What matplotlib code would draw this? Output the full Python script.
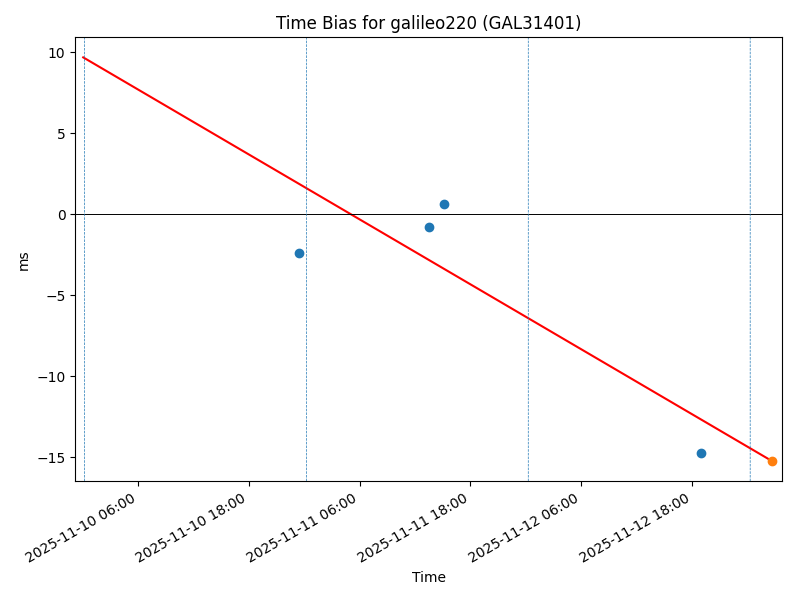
import numpy as np
import pandas as pd
import matplotlib
matplotlib.use("Agg")
import matplotlib.pyplot as plt
import matplotlib.dates as mdates

# measurements (time, bias in ms)
obs_times = pd.to_datetime(["2025-11-10 23:28", "2025-11-11 13:31",
                            "2025-11-11 15:07", "2025-11-12 18:56"])
obs_bias = [-2.40, -0.76, 0.60, -14.71]

# latest / predicted point
last_time = pd.to_datetime(["2025-11-13 02:36"])
last_bias = [-15.22]

# fitted trend line
fit_times = pd.to_datetime(["2025-11-10 00:07", "2025-11-13 02:36"])
fit_bias = [9.67, -15.22]

# day markers
day_marks = pd.to_datetime(["2025-11-10 00:15", "2025-11-11 00:15",
                            "2025-11-12 00:15", "2025-11-13 00:15"])

xlim = pd.to_datetime(["2025-11-09 23:15", "2025-11-13 03:44"])

fig, ax = plt.subplots(figsize=(8, 6), dpi=100)
ax.scatter(obs_times, obs_bias, color="C0", zorder=3)
ax.scatter(last_time, last_bias, color="C1", zorder=3)
ax.plot(fit_times, fit_bias, color="red", linewidth=1.5)
ax.axhline(0, color="black", linewidth=0.7)
for t in day_marks:
    ax.axvline(t, color="C0", linestyle="--", linewidth=0.5, snap=False)

ax.set_xlim(xlim[0], xlim[1])
ax.xaxis.set_major_locator(mdates.HourLocator(byhour=[6, 18]))
ax.xaxis.set_major_formatter(mdates.DateFormatter("%Y-%m-%d %H:%M"))
fig.autofmt_xdate()

ax.set_title("Time Bias for galileo220 (GAL31401)")
ax.set_xlabel("Time")
ax.set_ylabel("ms")
fig.subplots_adjust(left=0.094, right=0.978, top=0.938, bottom=0.198)
fig.savefig("out.png")
